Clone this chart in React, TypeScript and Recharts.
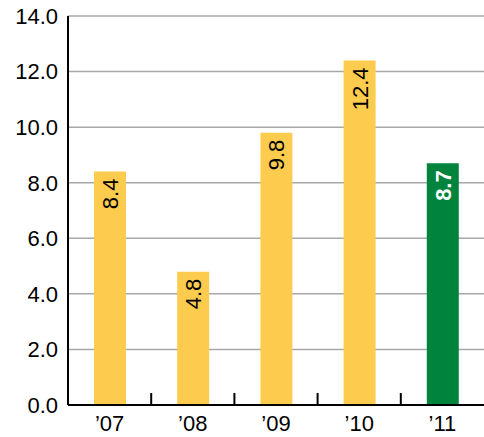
import { BarChart, Bar, XAxis, YAxis, CartesianGrid, Cell, LabelList } from 'recharts'

const years = ["’07", "’08", "’09", "’10", "’11"]
const values = [8.4, 4.8, 9.8, 12.4, 8.7]
const yTicks = [0, 2, 4, 6, 8, 10, 12, 14]

const YELLOW = '#FDCB4E'
const GREEN = '#00843D'
const FONT = '"Liberation Sans", Arial, Helvetica, sans-serif'

const WIDTH = 484
const HEIGHT = 437
const Y_AXIS_W = 68
const X_AXIS_H = 32
const BAND = (WIDTH - Y_AXIS_W) / years.length

const data = years.map((year, i) => ({ year, value: values[i] }))

const BarValue = (props: any) => {
  const { x, y, width, value, index } = props
  const cx = x + width / 2
  const top = y + 7
  const last = index === values.length - 1
  return (
    <text
      x={cx}
      y={top}
      dy="0.36em"
      transform={`rotate(-90 ${cx} ${top})`}
      textAnchor="end"
      fontSize={22}
      fontFamily={FONT}
      fontWeight={last ? 'bold' : 'normal'}
      fill={last ? '#ffffff' : '#000000'}
    >
      {value.toFixed(1)}
    </text>
  )
}

// year label plus a short upward tick on the left edge of each band (except the first)
const YearTick = (props: any) => {
  const { x, y, payload, index } = props
  const axisY = HEIGHT - X_AXIS_H
  const sx = x - BAND / 2
  return (
    <g>
      {index > 0 && <line x1={sx} x2={sx} y1={axisY} y2={axisY - 12} stroke="#000" strokeWidth={2} />}
      <text x={x} y={y} dy="0.71em" textAnchor="middle" fontSize={22} fontFamily={FONT} fill="#000">
        {payload.value}
      </text>
    </g>
  )
}

export default function App() {
  return (
    <div style={{ position: 'absolute', left: 0, top: 0, width: WIDTH, height: HEIGHT, background: '#fff' }}>
      <BarChart
        width={WIDTH}
        height={HEIGHT}
        data={data}
        margin={{ top: 16, right: 0, bottom: 0, left: 0 }}
        barCategoryGap={0}
      >
        <CartesianGrid vertical={false} stroke="#A8A8A8" strokeWidth={1.5} />
        <XAxis
          dataKey="year"
          height={X_AXIS_H}
          tickLine={false}
          tickMargin={4}
          interval={0}
          axisLine={{ stroke: '#000', strokeWidth: 2 }}
          tick={<YearTick />}
        />
        <YAxis
          width={Y_AXIS_W}
          domain={[0, 14]}
          ticks={yTicks}
          interval={0}
          tickFormatter={(v: number) => v.toFixed(1)}
          tickLine={false}
          tickMargin={4}
          axisLine={{ stroke: '#000', strokeWidth: 2 }}
          tick={{ fill: '#000', fontSize: 22, fontFamily: FONT }}
        />
        <Bar dataKey="value" barSize={32} isAnimationActive={false}>
          {data.map((d, i) => (
            <Cell key={d.year} fill={i === data.length - 1 ? GREEN : YELLOW} />
          ))}
          <LabelList dataKey="value" content={<BarValue />} />
        </Bar>
      </BarChart>
    </div>
  )
}
